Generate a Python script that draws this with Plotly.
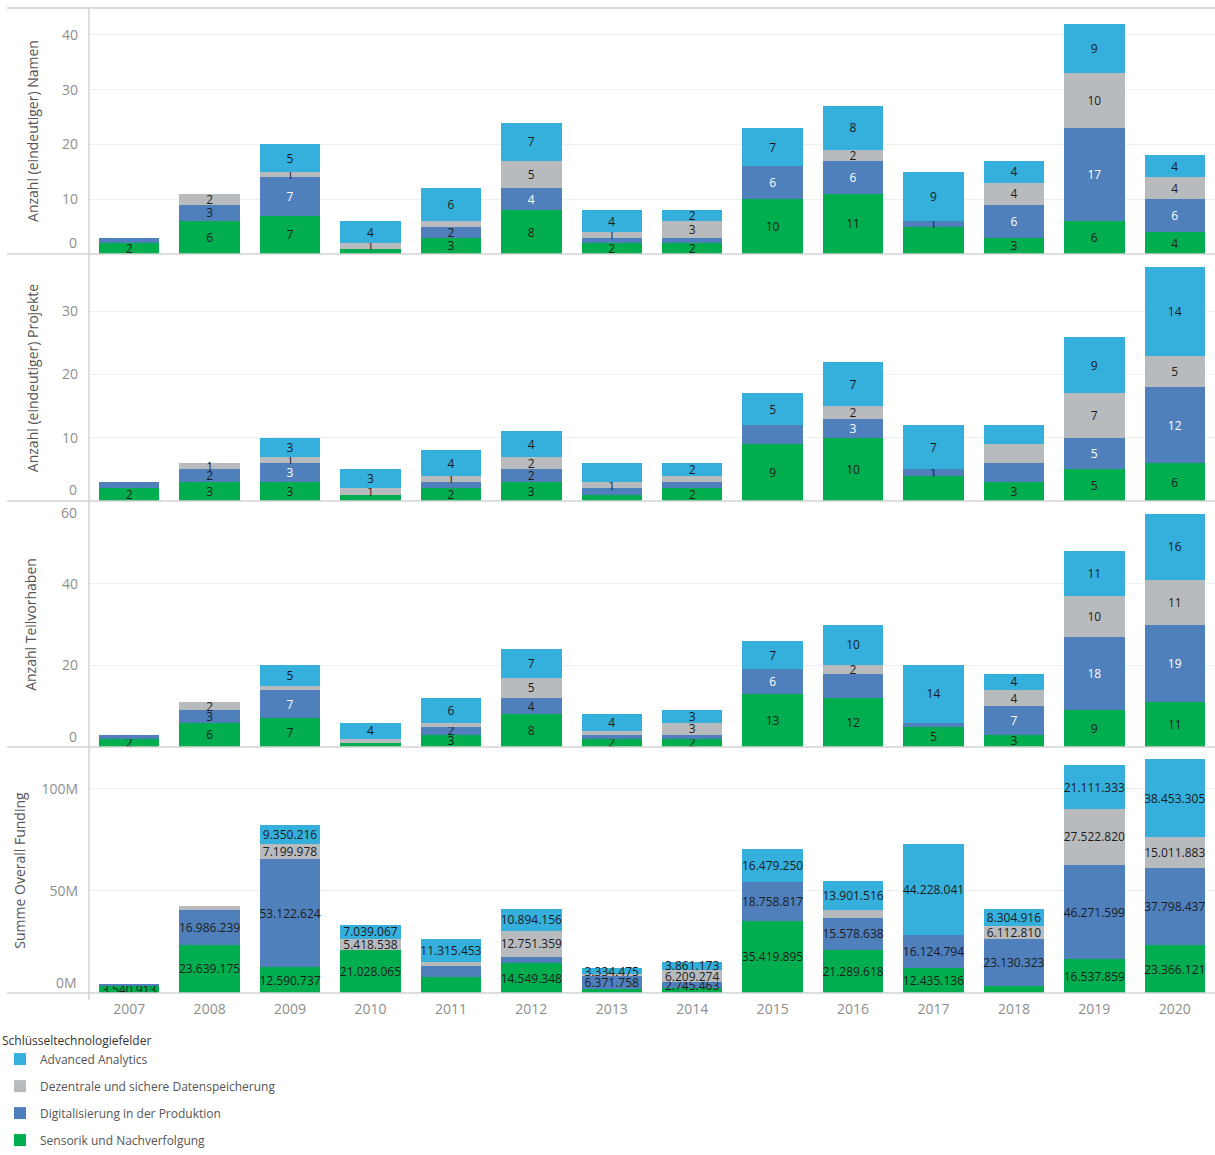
import plotly.graph_objects as go
from plotly.subplots import make_subplots

# ---------------- data ----------------
years = ["2007", "2008", "2009", "2010", "2011", "2012", "2013",
         "2014", "2015", "2016", "2017", "2018", "2019", "2020"]

series_names = ["Sensorik und Nachverfolgung",
                "Digitalisierung in der Produktion",
                "Dezentrale und sichere Datenspeicherung",
                "Advanced Analytics"]

# Anzahl (eindeutiger) Namen
namen_sensorik = [2, 6, 7, 1, 3, 8, 2, 2, 10, 11, 5, 3, 6, 4]
namen_digital = [1, 3, 7, 0, 2, 4, 1, 1, 6, 6, 1, 6, 17, 6]
namen_dezentral = [0, 2, 1, 1, 1, 5, 1, 3, 0, 2, 0, 4, 10, 4]
namen_analytics = [0, 0, 5, 4, 6, 7, 4, 2, 7, 8, 9, 4, 9, 4]

# Anzahl (eindeutiger) Projekte
projekte_sensorik = [2, 3, 3, 1, 2, 3, 1, 2, 9, 10, 4, 3, 5, 6]
projekte_digital = [1, 2, 3, 0, 1, 2, 1, 1, 3, 3, 1, 3, 5, 12]
projekte_dezentral = [0, 1, 1, 1, 1, 2, 1, 1, 0, 2, 0, 3, 7, 5]
projekte_analytics = [0, 0, 3, 3, 4, 4, 3, 2, 5, 7, 7, 3, 9, 14]

# Anzahl Teilvorhaben
teil_sensorik = [2, 6, 7, 1, 3, 8, 2, 2, 13, 12, 5, 3, 9, 11]
teil_digital = [1, 3, 7, 0, 2, 4, 1, 1, 6, 6, 1, 7, 18, 19]
teil_dezentral = [0, 2, 1, 1, 1, 5, 1, 3, 0, 2, 0, 4, 10, 11]
teil_analytics = [0, 0, 5, 4, 6, 7, 4, 3, 7, 10, 14, 4, 11, 16]

# Summe Overall Funding
fund_sensorik = [3540913, 23639175, 12590737, 21028065, 7800000, 14549348, 2000000,
                 2400000, 35419895, 21289618, 12435136, 3400000, 16537859, 23366121]
fund_digital = [900000, 16986239, 53122624, 0, 5400000, 3100000, 6371758,
                2745463, 18758817, 15578638, 16124794, 23130323, 46271599, 37798437]
fund_dezentral = [0, 2200000, 7199978, 5418538, 1800000, 12751359, 700000,
                  6209274, 0, 4000000, 0, 6112810, 27522820, 15011883]
fund_analytics = [0, 0, 9350216, 7039067, 11315453, 10894156, 3334475,
                  3861173, 16479250, 13901516, 44228041, 8304916, 21111333, 38453305]

# labels that the original view does not show (years per series)
hidden_namen = [["2010", "2017"], ["2007", "2013", "2014"], ["2011"], []]
hidden_projekte = [["2010", "2013", "2017"], ["2007", "2011", "2013", "2014", "2015", "2018"],
                   ["2014", "2018"], ["2013", "2018"]]
hidden_teil = [["2010"], ["2007", "2013", "2014", "2016", "2017"],
               ["2009", "2010", "2011", "2013"], []]
hidden_fund = [["2011", "2013", "2014", "2018"], ["2007", "2011", "2012"],
               ["2008", "2011", "2013", "2016"], []]

axis_titles = ["Anzahl (eindeutiger) Namen", "Anzahl (eindeutiger) Projekte",
               "Anzahl Teilvorhaben", "Summe Overall Funding"]
tickvals = [[0, 10, 20, 30, 40], [0, 10, 20, 30], [0, 20, 40, 60], [0, 50000000, 100000000]]
ticktext = [["0", "10", "20", "30", "40"], ["0", "10", "20", "30"],
            ["0", "20", "40", "60"], ["0M", "50M", "100M"]]
legend_title = "Schlüsseltechnologiefelder"

# ---------------- style ----------------
W, H = 1215, 1155
FONT = "Open Sans"
colors = ["#00AE4F", "#4F80BC", "#B8BBBE", "#35AFDC"]
legend_rank = [4, 3, 2, 1]
panel_px = [(8, 254), (255, 501), (502, 747), (748, 993)]  # top, bottom in px
y_max = [44.9, 38.9, 60, 120000000]
title_standoff = [20, 20, 22, 12]
x_left_px = 89
tick_standoff = 10
tick_font = dict(size=14, color="#8E8E8E", family=FONT)


def fmt_de(v):
    return f"{v:,.0f}".replace(",", ".")


panels = [
    ([namen_sensorik, namen_digital, namen_dezentral, namen_analytics], hidden_namen, False),
    ([projekte_sensorik, projekte_digital, projekte_dezentral, projekte_analytics], hidden_projekte, False),
    ([teil_sensorik, teil_digital, teil_dezentral, teil_analytics], hidden_teil, False),
    ([fund_sensorik, fund_digital, fund_dezentral, fund_analytics], hidden_fund, True),
]

fig = make_subplots(rows=4, cols=1, shared_xaxes=True, vertical_spacing=0)

for p, (data, hidden, is_money) in enumerate(panels):
    top, bottom = panel_px[p]
    px_per_unit = (bottom - top) / y_max[p]
    for s, vals in enumerate(data):
        texts, tcolors = [], []
        for yr, v in zip(years, vals):
            if v == 0 or yr in hidden[s]:
                texts.append("")
            else:
                texts.append(fmt_de(v) if is_money else str(v))
            if s == 1 and not is_money and v * px_per_unit >= 18:
                tcolors.append("#ffffff")
            else:
                tcolors.append("#1c1c1c")
        fig.add_trace(
            go.Bar(
                x=years, y=vals, name=series_names[s],
                marker=dict(color=colors[s], line=dict(width=0)),
                text=texts, textposition="inside", insidetextanchor="middle",
                textangle=0, texttemplate="%{text}",
                textfont=dict(color=tcolors, size=12, family=FONT),
                legendgroup=series_names[s], showlegend=(p == 0),
                legendrank=legend_rank[s],
            ),
            row=p + 1, col=1,
        )

fig.update_layout(
    width=W, height=H,
    margin=dict(l=0, r=0, t=0, b=0),
    paper_bgcolor="white", plot_bgcolor="white",
    barmode="stack", bargap=0.25,
    font=dict(family=FONT, size=12, color="#555555"),
    uniformtext=dict(minsize=12, mode="show"),
    legend=dict(
        title=dict(text=legend_title, font=dict(size=12, color="#333333", family=FONT)),
        font=dict(size=12, color="#555555", family=FONT),
        x=0.0, y=0.0, xanchor="left", yanchor="bottom",
        tracegroupgap=8, bgcolor="rgba(0,0,0,0)",
    ),
)

for p in range(4):
    top, bottom = panel_px[p]
    yname = "yaxis" if p == 0 else f"yaxis{p + 1}"
    xname = "xaxis" if p == 0 else f"xaxis{p + 1}"
    # the edge labels (0 at the bottom, top value if at the edge) are drawn
    # separately, nudged into the panel as in the original view
    shown = []
    for v, t in zip(tickvals[p], ticktext[p]):
        at_edge = v == 0 or v >= y_max[p]
        shown.append("" if at_edge else t)
        if at_edge:
            fig.add_annotation(
                xref="paper", yref=yname.replace("axis", ""),
                x=(x_left_px - tick_standoff) / W, y=v,
                xanchor="right", yanchor="middle",
                yshift=11 if v == 0 else -10,
                text=t, showarrow=False, font=tick_font,
            )
    fig.layout[yname].update(dict(
        domain=[1 - bottom / H, 1 - top / H],
        range=[0, y_max[p]],
        tickvals=tickvals[p], ticktext=shown,
        showgrid=True, gridcolor="#EFEFEF", gridwidth=1,
        zeroline=False, showline=False, ticks="",
        ticklabelstandoff=tick_standoff,
        tickfont=tick_font,
        title=dict(text=axis_titles[p], standoff=title_standoff[p],
                   font=dict(size=14, color="#555555", family=FONT)),
        automargin=False, fixedrange=True,
    ))
    fig.layout[xname].update(dict(
        domain=[x_left_px / W, 1], type="category",
        showgrid=False, zeroline=False, showline=False, ticks="",
        ticklabelstandoff=6,
        tickfont=dict(size=14, color="#8E8E8E", family=FONT),
        automargin=False, fixedrange=True,
    ))

# panel separator / baseline lines and the vertical axis rule
line_col = "#D3D3D3"
for ypx in [8, 254, 501, 747, 993]:
    fig.add_shape(type="line", xref="paper", yref="paper",
                  x0=7 / W, x1=1, y0=1 - ypx / H, y1=1 - ypx / H,
                  line=dict(color=line_col, width=1.5), layer="above")
fig.add_shape(type="line", xref="paper", yref="paper",
              x0=x_left_px / W, x1=x_left_px / W, y0=1 - 1000 / H, y1=1 - 8 / H,
              line=dict(color=line_col, width=1.5), layer="above")

fig.write_html("out.html")
